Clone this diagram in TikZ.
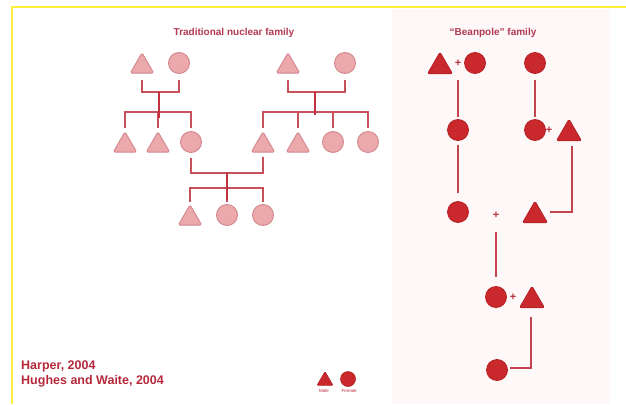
\documentclass[tikz,border=0pt]{standalone}
\usepackage{fontspec}
\setmainfont{Liberation Sans}
\usetikzlibrary{shapes.geometric,calc}
\definecolor{yel}{HTML}{FBEF3C}
\definecolor{panelpink}{HTML}{FEF8F9}
\definecolor{tfill}{HTML}{EBA9AC}
\definecolor{tdraw}{HTML}{D3868D}
\definecolor{tlinec}{HTML}{C8505B}
\definecolor{tstemc}{HTML}{C2323E}
\definecolor{bfill}{HTML}{C9282C}
\definecolor{bdraw}{HTML}{B42024}
\definecolor{blinec}{HTML}{C4444E}
\definecolor{plusc}{HTML}{B8303A}
\definecolor{titlec}{HTML}{B23A52}
\definecolor{refc}{HTML}{B5283A}
\begin{document}
\begin{tikzpicture}[x=1pt,y=-1pt,
  ttri/.style={regular polygon,regular polygon sides=3,minimum size=27pt,inner sep=0pt,outer sep=0pt,fill=tfill,draw=tdraw,line width=0.9pt,rounded corners=1.5pt},
  tcirc/.style={circle,minimum size=21pt,inner sep=0pt,outer sep=0pt,fill=tfill,draw=tdraw,line width=0.9pt},
  btri/.style={regular polygon,regular polygon sides=3,minimum size=28.9pt,inner sep=0pt,outer sep=0pt,fill=bfill,draw=bdraw,line width=0.8pt,rounded corners=1.5pt},
  bcirc/.style={circle,minimum size=21pt,inner sep=0pt,outer sep=0pt,fill=bfill,draw=bdraw,line width=0.8pt},
  ltri/.style={regular polygon,regular polygon sides=3,minimum size=18.5pt,inner sep=0pt,outer sep=0pt,fill=bfill,draw=bdraw,line width=0.6pt,rounded corners=1pt},
  lcirc/.style={circle,minimum size=15pt,inner sep=0pt,outer sep=0pt,fill=bfill,draw=bdraw,line width=0.6pt},
  tline/.style={draw=tlinec,line width=1.7pt},
  tstem/.style={draw=tstemc,line width=2pt},
  bline/.style={draw=blinec,line width=1.8pt},
  plusn/.style={text=plusc,font=\fontsize{11}{11}\selectfont\bfseries,inner sep=0pt},
  titlen/.style={text=titlec,font=\fontsize{10}{12}\selectfont\bfseries,inner sep=0pt},
  refn/.style={text=refc,font=\fontsize{12.5}{14}\selectfont\bfseries,inner sep=0pt,anchor=west},
  legn/.style={text=refc,font=\fontsize{4.5}{5}\selectfont,inner sep=0pt}
]
\useasboundingbox (0,0) rectangle (626,404);
\fill[panelpink] (392,9) rectangle (610,404);
\draw[yel,line width=2pt] (12,404) -- (12,7) -- (626,7);

% titles
\node[titlen] (t1) at (234,33) {Traditional nuclear family};
\node[titlen] (t2) at (493,33) {“Beanpole” family};

% ---------- traditional nuclear family ----------
\node[ttri] (ta1) at (142,66.3) {};
\node[tcirc] (ca1) at (179,63) {};
\node[ttri] (tb1) at (288,66.3) {};
\node[tcirc] (cb1) at (345,63) {};
\coordinate (ja) at (159,92);
\coordinate (jb) at (315,92);
\draw[tline] (ta1 |- 0,80) |- (ja) -| (ca1 |- 0,80);
\draw[tline] (tb1 |- 0,80) |- (jb) -| (cb1 |- 0,80);

\node[ttri] (ta2) at (125,145.3) {};
\node[ttri] (ta3) at (158,145.3) {};
\node[tcirc] (ca2) at (191,142) {};
\coordinate (ka) at (159,112);
\draw[tline] (ta2 |- 0,128) |- (ka) -| (ca2 |- 0,128);
\draw[tline] (ta3 |- ka) -- (ta3 |- 0,128);
\draw[tstem] (ja) -- ($(ka)+(0,6)$);

\node[ttri] (tb2) at (263,145.3) {};
\node[ttri] (tb3) at (298,145.3) {};
\node[tcirc] (cb2) at (333,142) {};
\node[tcirc] (cb3) at (368,142) {};
\coordinate (kb) at (315,112);
\draw[tline] (tb2 |- 0,128) |- (kb) -| (cb3 |- 0,128);
\draw[tline] (tb3 |- kb) -- (tb3 |- 0,128);
\draw[tline] (cb2 |- kb) -- (cb2 |- 0,128);
\draw[tstem] (jb) -- ($(kb)+(0,3)$);

\coordinate (m) at (227,173);
\draw[tline] (ca2 |- 0,158) |- (m) -| (tb2 |- 0,157);
\node[ttri] (tc1) at (190,218.3) {};
\node[tcirc] (cc1) at (227,215) {};
\node[tcirc] (cc2) at (263,215) {};
\coordinate (kc) at (227,188);
\draw[tline] (tc1 |- 0,202) |- (kc) -| (cc2 |- 0,202);
\draw[tline] (cc1 |- kc) -- (cc1 |- 0,202);
\draw[tstem] (m) -- ($(kc)+(0,12)$);

% ---------- beanpole family ----------
\node[btri] (bt1) at (440,66.6) {};
\node[plusn] (p1) at (458,63) {+};
\node[bcirc] (bc1) at (475,63) {};
\node[bcirc] (bc2) at (535,63) {};

\node[bcirc] (bc3) at (458,130) {};
\node[bcirc] (bc4) at (535,130) {};
\node[plusn] (p2) at (549,130) {+};
\node[btri] (bt2) at (569,133.6) {};

\node[bcirc] (bc5) at (458,212) {};
\node[plusn] (p3) at (496,215) {+};
\node[btri] (bt3) at (535,215.6) {};

\node[bcirc] (bc6) at (496,297) {};
\node[plusn] (p4) at (513,297) {+};
\node[btri] (bt4) at (532,300.6) {};

\node[bcirc] (bc7) at (497,370) {};

\draw[bline,shorten <=17pt,shorten >=13pt] (p1.center) -- (bc3.center);
\draw[bline,shorten <=17pt,shorten >=13pt] (bc2.center) -- (bc4.center);
\draw[bline,shorten <=15pt,shorten >=19pt] (bc3.center) -- (bc5.center);
\draw[bline] ([xshift=3pt,yshift=-12.4pt]bt2.center) |- ([xshift=15pt,yshift=3.6pt]bt3.center);
\draw[bline,shorten <=17pt,shorten >=20pt] (p3.center) -- (bc6.center);
\draw[bline] ([xshift=-1pt,yshift=-16.4pt]bt4.center) |- ([xshift=13pt,yshift=2pt]bc7.center);

% ---------- legend ----------
\node[ltri] (lt) at (325,380.8) {};
\node[lcirc] (lc) at (348,379) {};
\node[legn] (lm) at (324,391) {Male};
\node[legn] (lf) at (349,391) {Female};

% ---------- references ----------
\node[refn] (r1) at (21,366) {Harper, 2004};
\node[refn] (r2) at (21,381) {Hughes and Waite, 2004};
\end{tikzpicture}
\end{document}
